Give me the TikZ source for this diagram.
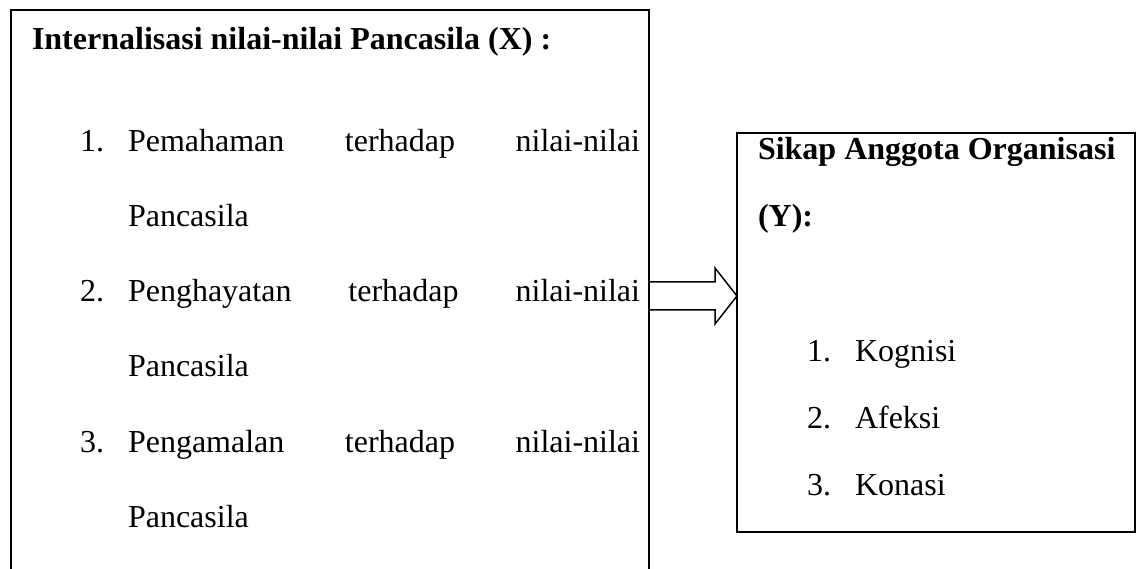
\documentclass[tikz,border=0pt]{standalone}
\usepackage{fontspec}
\setmainfont{Liberation Serif}
\usetikzlibrary{calc}
\begin{document}
\begin{tikzpicture}[x=1pt,y=-1pt,
  box/.style={draw=black,line width=1.8pt,inner sep=0pt,outer sep=0pt},
  txt/.style={anchor=base west,inner sep=0pt,outer sep=0pt,font=\fontsize{32}{38}\selectfont},
  btxt/.style={txt,font=\fontsize{32}{38}\selectfont\bfseries},
  blockarrow/.style={draw=black,line width=1.5pt,line join=miter}]
\useasboundingbox (0,0) rectangle (1138,569);
\clip (0,0) rectangle (1138,569);
% boxes
\node[box,anchor=north west,minimum width=638pt,minimum height=640pt] (L) at (11,10) {};
\node[box,anchor=north west,minimum width=398pt,minimum height=399pt] (R) at (737,133) {};
% left text
\node[btxt] (lt) at (32,50) {Internalisasi nilai-nilai Pancasila (X) :};
\node[txt] (n1) at (80,152) {1.};
\node[txt] (l1) at (128,152) {\hbox to 512pt{Pemahaman\hfill terhadap\hfill nilai-nilai}};
\node[txt] (l1b) at (128,227) {Pancasila};
\node[txt] (n2) at (80,302) {2.};
\node[txt] (l2) at (128,302) {\hbox to 512pt{Penghayatan\hfill terhadap\hfill nilai-nilai}};
\node[txt] (l2b) at (128,377) {Pancasila};
\node[txt] (n3) at (80,452) {3.};
\node[txt] (l3) at (128,452) {\hbox to 512pt{Pengamalan\hfill terhadap\hfill nilai-nilai}};
\node[txt] (l3b) at (128,527) {Pancasila};
% right text
\node[btxt] (rt1) at (758,160) {Sikap Anggota Organisasi};
\node[btxt] (rt2) at (758,227) {(Y):};
\node[txt] (m1) at (807,361) {1.};
\node[txt] (r1) at (855,361) {Kognisi};
\node[txt] (m2) at (807,428) {2.};
\node[txt] (r2) at (855,428) {Afeksi};
\node[txt] (m3) at (807,495) {3.};
\node[txt] (r3) at (855,495) {Konasi};
% block arrow
\coordinate (s) at (L.east |- 0,296);
\coordinate (t) at (R.west |- 0,296);
\draw[blockarrow] (s) ++(0,-14) -- ++(66,0) -- ++(0,-14) -- (t) -- ++(-22,28) -- ++(0,-14) -- ++(-66,0);
\end{tikzpicture}
\end{document}
